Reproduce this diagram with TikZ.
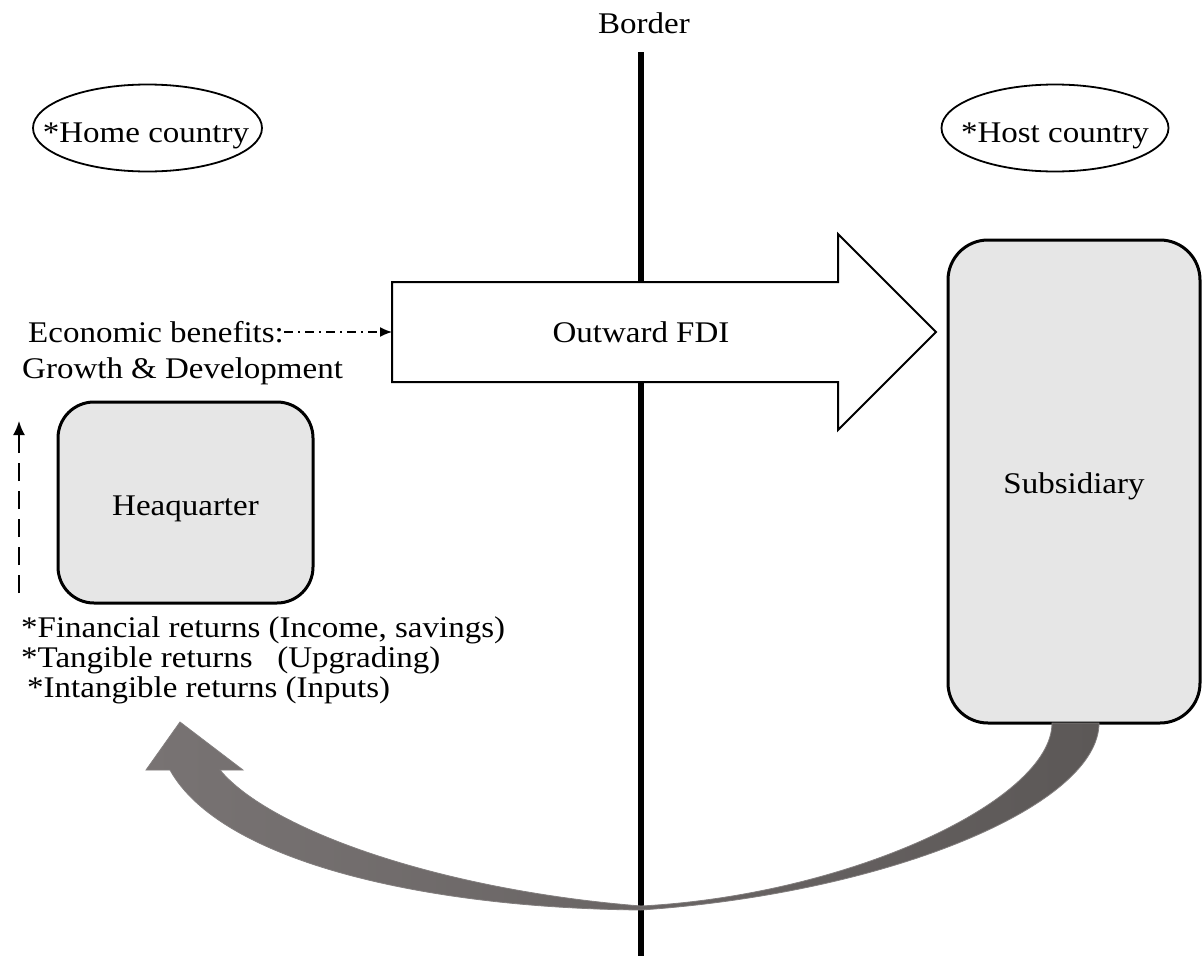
\documentclass[tikz,border=0pt]{standalone}
\usepackage{fontspec}
\setmainfont{Liberation Serif}[FakeStretch=1.1]
\usetikzlibrary{arrows.meta,shapes.geometric}
\definecolor{boxgray}{RGB}{230,230,230}
\definecolor{arrL}{RGB}{120,115,115}
\definecolor{arrR}{RGB}{92,88,87}
\definecolor{arrEdge}{RGB}{130,126,126}
\begin{document}
\begin{tikzpicture}[x=1pt,y=-1pt,
  txt/.style={inner sep=0pt, font=\fontsize{30}{36}\selectfont},
  rbox/.style={draw, line width=3pt, fill=boxgray, inner sep=0pt,
               font=\fontsize{30}{36}\selectfont},
  oval/.style={ellipse, draw, line width=1.8pt, inner sep=0pt},
  dasharrow/.style={line width=2pt, dash pattern=on 18pt off 10pt,
               -{Latex[length=14pt,width=12pt]}},
  dotdasharrow/.style={line width=1.5pt, dash pattern=on 9pt off 5pt on 2pt off 5pt,
               -{Latex[length=12pt,width=10pt]}},
  borderline/.style={line width=6pt},
  fdiarrow/.style={line width=2pt, fill=white, line join=miter},
  returnarrow/.style={left color=arrL, right color=arrR, draw=arrEdge, line width=0.8pt}
]
\fill[white] (0,0) rectangle (1203,956);
\useasboundingbox (0,0) rectangle (1203,956);

% Border
\node[txt, anchor=base] (border) at (644,33) {Border};
\coordinate (btop) at (641,52);
\coordinate (bbot) at (641,956);
\draw[borderline] (btop) -- (bbot);

% Countries
\node[oval, minimum width=229, minimum height=87] (home) at (147.5,128) {};
\node[txt, anchor=base] (homet) at (146,142) {*Home country};
\node[oval, minimum width=227, minimum height=87] (host) at (1055,128) {};
\node[txt, anchor=base] (hostt) at (1055,142) {*Host country};

% Outward FDI arrow
\draw[fdiarrow] (392,282) -- (838,282) -- (838,234) -- (936,332) -- (838,430)
  -- (838,382) -- (392,382) -- cycle;
\coordinate (fdiW) at (392,332);
\node[txt] (fdi) at (641,332) {Outward FDI};

% Boxes
\node[rbox, rounded corners=36pt, minimum width=255, minimum height=201] (hq)
  at (185.5,502.5) {\raisebox{-13pt}[0pt][0pt]{Heaquarter}};
\node[rbox, rounded corners=40pt, minimum width=252, minimum height=483] (sub)
  at (1074,481.5) {\raisebox{-12pt}[0pt][0pt]{Subsidiary}};

% Economic benefits
\node[txt, anchor=base west] (econ) at (28,342) {Economic benefits:};
\node[txt, anchor=base west] (growth) at (22,378) {Growth \& Development};
\draw[dotdasharrow] (econ.east |- fdiW) -- (fdiW);

% dashed vertical arrow
\coordinate (dv1) at (19,593);
\coordinate (dv2) at (19,421);
\draw[dasharrow] (dv1) -- (dv2);

% returns list
\node[txt, anchor=base west] (r1) at (21,637) {*Financial returns (Income, savings)};
\node[txt, anchor=base west] (r2) at (21,667) {*Tangible returns \ \ (Upgrading)};
\node[txt, anchor=base west] (r3) at (27,697) {*Intangible returns (Inputs)};

% curved return arrow
\shadedraw[returnarrow]
  (1052,723) -- (1099,723)
  .. controls (1099,805) and (890,893) .. (641,910)
  .. controls (420,908) and (220,860) .. (170,770)
  -- (146,770) -- (180,722) -- (243,770) -- (220,770)
  .. controls (270,830) and (440,890) .. (641,906)
  .. controls (850,895) and (1052,800) .. (1052,723) -- cycle;
\end{tikzpicture}
\end{document}
